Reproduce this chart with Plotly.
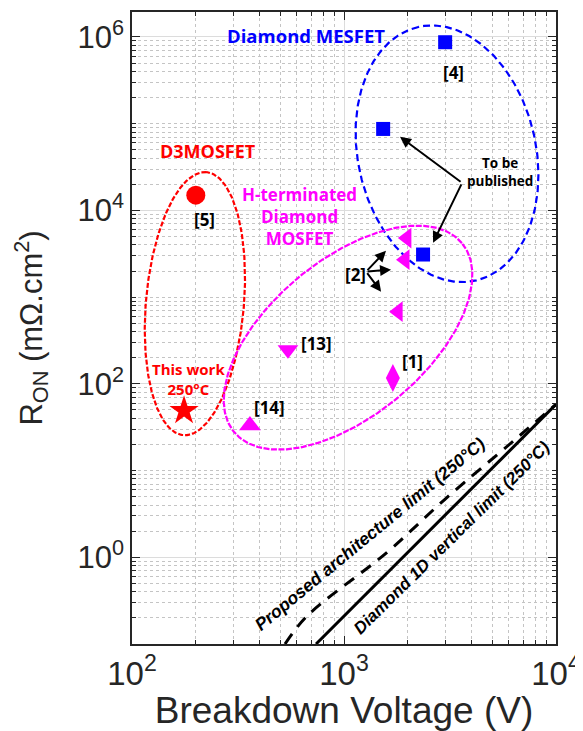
import numpy as np
import plotly.graph_objects as go

# ---------------- data ----------------
mesfet_V = [3000, 1530, 2360]
mesfet_R = [8.7e5, 8.7e4, 3100]

d3mosfet_V = [200]
d3mosfet_R = [1.5e4]

thiswork_V = [176]
thiswork_R = [49]

hterm_ref2_V = [1980, 1940, 1800]
hterm_ref2_R = [4800, 2700, 680]
hterm_ref1_V = [1700]
hterm_ref1_R = [117]
hterm_ref13_V = [544]
hterm_ref13_R = [248]
hterm_ref14_V = [360]
hterm_ref14_R = [33]

limit1d_V = [738, 10000]
limit1d_R = [0.1, 58]

proposed_V = [527, 668, 1596, 2993, 6265, 10000]
proposed_R = [0.1, 0.209, 1.14, 4.66, 21.7, 58]

x_tick_vals = [1e2, 1e3, 1e4]
x_tick_text = ["10<sup>2</sup>", "10<sup>3</sup>", "10<sup>4</sup>"]
y_tick_vals = [1e0, 1e2, 1e4, 1e6]
y_tick_text = ["10<sup>0</sup>", "10<sup>2</sup>", "10<sup>4</sup>", "10<sup>6</sup>"]

# group ellipses: centre (V, R), semi-axes (px), screen angle (deg)
ellipse_names = ["d3", "mesfet", "hterm"]
ellipse_cV = [198, 3061, 1045]
ellipse_cR = [841, 4.5e4, 341]
ellipse_a = [132, 130, 148]
ellipse_b = [49, 89, 78]
ellipse_ang = [85, 102.7, 39.7]

# ---------------- layout geometry ----------------
# the page body has an 8 px default margin, so the figure is offset by 8 px
OFF = 8
W, H = 583 - OFF, 731 - OFF
ML, MR, MT, MB = 132 - OFF, 27, 12 - OFF, 87
XR = [2, 4]
YR = [-1, 6.288]
pxx = (W - ML - MR) / (XR[1] - XR[0])
pxy = (H - MT - MB) / (YR[1] - YR[0])

AX = "#262626"
RED, BLUE, MAG = "#ff0000", "#0000ff", "#ff00ff"

fig = go.Figure()

# ellipses
styles = {
    "d3": dict(color=RED, width=2.2, dash="5px,2px"),
    "mesfet": dict(color=BLUE, width=2.2, dash="7px,4px"),
    "hterm": dict(color=MAG, width=2.2, dash="6px,1.5px"),
}
t = np.linspace(0, 2 * np.pi, 300)
for name, cv, cr, a, b, ang in zip(ellipse_names, ellipse_cV, ellipse_cR,
                                   ellipse_a, ellipse_b, ellipse_ang):
    phi = np.deg2rad(ang)
    dx = a * np.cos(t) * np.cos(phi) - b * np.sin(t) * np.sin(phi)
    dy = a * np.cos(t) * np.sin(phi) + b * np.sin(t) * np.cos(phi)
    xs = 10 ** (np.log10(cv) + dx / pxx)
    ys = 10 ** (np.log10(cr) + dy / pxy)
    fig.add_trace(go.Scatter(x=xs, y=ys, mode="lines", line=styles[name],
                             hoverinfo="skip", showlegend=False))

# limit lines
fig.add_trace(go.Scatter(x=limit1d_V, y=limit1d_R, mode="lines",
                         line=dict(color="black", width=3), showlegend=False))
fig.add_trace(go.Scatter(x=proposed_V, y=proposed_R, mode="lines",
                         line=dict(color="black", width=3, dash="12px,9px"),
                         line_shape="spline", showlegend=False))

# markers
def pts(x, y, sym, color, size):
    fig.add_trace(go.Scatter(x=x, y=y, mode="markers", showlegend=False,
                             marker=dict(symbol=sym, color=color, size=size,
                                         line=dict(width=0))))

pts(mesfet_V, mesfet_R, "square", BLUE, 14)
pts(d3mosfet_V, d3mosfet_R, "circle", RED, 19)
pts(thiswork_V, thiswork_R, "star", RED, 22)
pts(hterm_ref2_V, hterm_ref2_R, "triangle-left", MAG, 18)
pts(hterm_ref1_V, hterm_ref1_R, "diamond-tall", MAG, 20)
pts(hterm_ref13_V, hterm_ref13_R, "triangle-down", MAG, 18)
pts(hterm_ref14_V, hterm_ref14_R, "triangle-up", MAG, 19)

# ---------------- annotations ----------------
LBL = "Open Sans"
L = np.log10

def txt(x, y, s, color="black", size=15, angle=0, family=LBL):
    fig.add_annotation(x=L(x), y=L(y), text=s, showarrow=False,
                       textangle=angle, xanchor="center", yanchor="middle",
                       font=dict(family=family, size=size, color=color))

txt(662, 1.05e6, "<b>Diamond MESFET</b>", BLUE, 18.5)
txt(3300, 3.85e5, "<b>[4]</b>", "black", 17)
txt(5445, 2.79e4, "<b>To be<br>published</b>", "black", 13.5)
txt(228, 4.87e4, "<b>D3MOSFET</b>", RED, 18)
txt(219, 7800, "<b>[5]</b>", "black", 17)
txt(614, 8450, "<b>H-terminated<br>Diamond<br>MOSFET</b>", MAG, 17)
txt(1128, 1815, "<b>[2]</b>", "black", 17)
txt(738, 291, "<b>[13]</b>", "black", 17)
txt(2094, 181, "<b>[1]</b>", "black", 17)
txt(184, 115, "<b>This work<br>250°C</b>", RED, 15)
txt(443, 53, "<b>[14]</b>", "black", 17)
txt(1327, 1.84, "<b><i>Proposed architecture limit (250°C)</i></b>", "black", 17.5,
    -39.5, "Liberation Sans")
txt(3228, 1.70, "<b><i>Diamond 1D vertical limit (250°C)</i></b>", "black", 17,
    -44.5, "Liberation Sans")

def arrow(x_tail, y_tail, x_tip, y_tip):
    fig.add_annotation(x=L(x_tip), y=L(y_tip), ax=L(x_tail), ay=L(y_tail),
                       xref="x", yref="y", axref="x", ayref="y", text="",
                       showarrow=True, arrowhead=2, arrowsize=1.1,
                       arrowwidth=2, arrowcolor="black")

arrow(3606, 2.08e4, 1837, 7.05e4)
arrow(3606, 2.08e4, 2631, 4250)
arrow(1271, 1968, 1578, 3430)
arrow(1271, 1968, 1667, 2075)
arrow(1271, 1968, 1496, 1156)

# ---------------- axes ----------------
x_minor = [m * 10 ** k for k in (2, 3) for m in range(2, 10)]
y_minor = [m * 10 ** k for k in range(-1, 7) for m in range(1, 10)
           if not (m == 1 and k in (0, 2, 4, 6))]

axis_common = dict(
    type="log", ticks="inside", ticklen=8, tickwidth=1.2, tickcolor=AX,
    mirror="allticks", showline=True, linecolor=AX, linewidth=1.5,
    showgrid=True, gridcolor="#dcdcdc", gridwidth=1, zeroline=False,
    tickmode="array", automargin=False,
    tickfont=dict(family="Liberation Sans", size=33, color=AX),
)

fig.update_layout(
    width=W, height=H,
    margin=dict(l=ML, r=MR, t=MT, b=MB),
    paper_bgcolor="white", plot_bgcolor="white",
    showlegend=False,
    xaxis=dict(axis_common, range=XR, tickvals=x_tick_vals, ticktext=x_tick_text,
               minor=dict(tickvals=x_minor, ticks="inside", ticklen=4,
                          tickcolor=AX, showgrid=True, gridcolor="#c4c4c4",
                          griddash="dot", gridwidth=1),
               title=dict(text="Breakdown Voltage (V)", standoff=2,
                          font=dict(family="Liberation Sans", size=37, color=AX))),
    yaxis=dict(axis_common, range=YR, tickvals=y_tick_vals, ticktext=y_tick_text,
               tickfont=dict(family="Liberation Sans", size=31, color=AX),
               minor=dict(tickvals=y_minor, ticks="inside", ticklen=4,
                          tickcolor=AX, showgrid=True, gridcolor="#c4c4c4",
                          griddash="dot", gridwidth=1),
               title=dict(text="R<sub>ON</sub> (mΩ.cm<sup>2</sup>)", standoff=26,
                          font=dict(family="Liberation Sans", size=31, color=AX))),
)

fig.write_html("out.html")
